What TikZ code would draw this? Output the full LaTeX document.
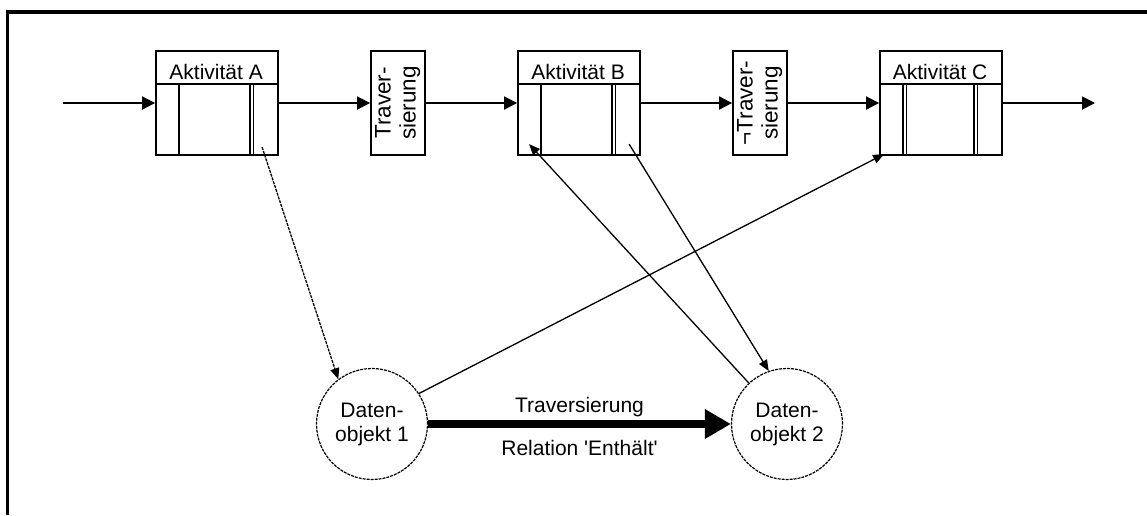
\documentclass[tikz,border=0pt]{standalone}
\usepackage{fontspec}
\setmainfont{Liberation Sans}
\usetikzlibrary{arrows.meta}
\newcommand\travtext[1]{\rotatebox{90}{\fontsize{22.5}{25}\selectfont\begin{tabular}{@{}c@{}}#1\end{tabular}}}

\begin{document}
\begin{tikzpicture}[x=1pt, y=-1pt, node distance=181pt,
		font=\fontsize{21}{24}\selectfont,
		act/.style = {draw, line width=1.8pt, minimum width=122pt, minimum height=104pt, inner sep=0pt},
		trav/.style = {draw, line width=1.8pt, minimum width=54pt, minimum height=104pt, inner sep=0pt},
		obj/.style = {draw, circle, dash pattern=on 3pt off 1pt, line width=1.2pt, minimum size=111pt, inner sep=0pt, align=center},
		flow/.style = {line width=1.8pt, -{Triangle[length=13pt, width=13pt]}},
		link/.style = {line width=1.3pt, -{Triangle[length=11pt, width=9pt]}}]
		\useasboundingbox (0,0) rectangle (1147,515);
		\draw[line width=3.5pt] (7.5,515) -- (7.5,12) -- (1147,12);
		\node[act] (A) at (217,103) {};
		\node[trav] (T1) [right of=A] {\travtext{Traver-\\sierung}};
		\node[act] (B) [right of=T1] {};
		\node[trav] (T2) [right of=B] {\travtext{¬Traver-\\sierung}};
		\node[act] (C) [right of=T2] {};
		\foreach \n/\t in {A/Aktivität A, B/Aktivität B, C/Aktivität C} {
			\path (\n.north west) ++(61,29) node[anchor=base] (\n-t) {\t};
			\draw[line width=1.8pt] (\n.north west) ++(0,34) -- ++(122,0);
			\foreach \dx in {24,95,98.5}
				\draw[line width=1.5pt] (\n.north west) ++(\dx,34) -- ++(0,70);
		}
		\draw[line width=1.5pt] (C.north west) ++(27.5,34) -- ++(0,70);
		\node[obj] (D1) at (372,424) {Daten-\\objekt 1};
		\node[obj] (D2) [right of=D1, node distance=415pt] {Daten-\\objekt 2};
		\coordinate (in) at (63,103);
		\coordinate (out) at (1095,103);
		\path (A.north west) ++(107,97) coordinate (A-o);
		\path (B.north west) ++(12,94) coordinate (B-i);
		\path (B.north west) ++(112,94) coordinate (B-o);
		\path (C.north west) ++(5,104) coordinate (C-i);
		\draw[flow] (in) -- (A);
		\draw[flow] (A) -- (T1);
		\draw[flow] (T1) -- (B);
		\draw[flow] (B) -- (T2);
		\draw[flow] (T2) -- (C);
		\draw[flow] (C) -- (out);
		\draw[link, dash pattern=on 3pt off 1pt] (A-o) -- (D1.127);
		\draw[link] (D2.133) -- (B-i);
		\draw[link] (B-o) -- (D2.109);
		\draw[link] (D1.33) -- (C-i);
		\draw[line width=8pt, -{Triangle[length=26pt, width=28pt]}] (D1) -- (D2)
			node[midway, above] (rel-t) {Traversierung}
			node[midway, below=9pt] (rel-b) {Relation \textquotesingle Enthält\textquotesingle};
	\end{tikzpicture}
\end{document}
